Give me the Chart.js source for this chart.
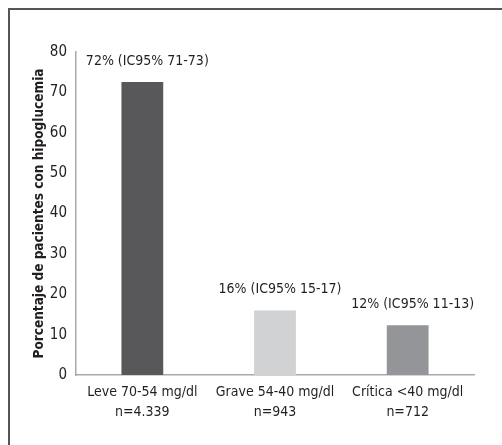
<!DOCTYPE html>
<html>
<head>
    <title>hipoglucemia</title>
    <style>
        body{
            margin: 0;
            background: #fff;
            overflow: hidden;
        }
        #frame{
            position: absolute;
            left: 8px;
            top: 8px;
            width: 500px;
            height: 440px;
            border-left: 2px solid #555;
            border-top: 2px solid #555;
        }
        canvas{
            display: block;
        }
    </style>
    <script src="https://cdn.jsdelivr.net/npm/chart.js@4.4.0/dist/chart.umd.min.js"></script>
</head>
<body>
    <div id="frame">
        <canvas id="myChart" width="492" height="435"></canvas>
    </div>

    <script>
        // categories, values and labels
        var categories = [
            ["Leve 70-54 mg/dl", "n=4.339"],
            ["Grave 54-40 mg/dl", "n=943"],
            ["Crítica <40 mg/dl", "n=712"]
        ];
        var values = [72.6, 16, 12.3];
        var barLabels = ["72% (IC95% 71-73)", "16% (IC95% 15-17)", "12% (IC95% 11-13)"];
        var barColors = ["#58585a", "#d1d2d4", "#939598"];
        var yTitle = "Porcentaje de pacientes con hipoglucemia";

        var fontName = "'Liberation Sans Narrow', 'DejaVu Sans Condensed', sans-serif";

        // text above each bar
        var barText = {
            id: 'barText',
            afterDatasetsDraw: function (chart) {
                var ctx = chart.ctx;
                var meta = chart.getDatasetMeta(0);
                ctx.save();
                ctx.font = "14px " + fontName;
                ctx.fillStyle = "#231f20";
                ctx.textAlign = "center";
                ctx.textBaseline = "middle";
                meta.data.forEach(function (bar, i) {
                    ctx.fillText(barLabels[i], bar.x + 5, bar.y - 21);
                });
                ctx.restore();
            }
        };

        var ctx = document.getElementById('myChart').getContext('2d');
        var myChart = new Chart(ctx, {
            type: 'bar',
            data: {
                labels: categories,
                datasets: [{
                    data: values,
                    backgroundColor: barColors,
                    barPercentage: 0.315,
                    categoryPercentage: 1
                }]
            },
            plugins: [barText],
            options: {
                responsive: false,
                animation: false,
                layout: {
                    padding: { left: 21, top: 42, right: 28, bottom: 0 }
                },
                plugins: {
                    legend: { display: false },
                    tooltip: { enabled: false }
                },
                scales: {
                    x: {
                        grid: { display: false, drawTicks: false },
                        border: { color: '#a7a9ac', width: 1.5 },
                        ticks: {
                            padding: 7,
                            autoSkip: false,
                            color: '#231f20',
                            maxRotation: 0,
                            font: { family: fontName, size: 14, lineHeight: 1.45 }
                        },
                        afterFit: function (axis) { axis.height = 70; }
                    },
                    y: {
                        min: 0,
                        max: 80,
                        grid: { display: false, drawTicks: false },
                        border: { color: '#a7a9ac', width: 1.5 },
                        ticks: {
                            stepSize: 10,
                            padding: 9,
                            color: '#231f20',
                            font: { family: fontName, size: 15 }
                        },
                        title: {
                            display: true,
                            text: yTitle,
                            color: '#231f20',
                            padding: 0,
                            font: { family: fontName, size: 13.5, weight: 'bold' }
                        },
                        afterFit: function (axis) { axis.width = 45; }
                    }
                }
            }
        });
    </script>
</body>
</html>
